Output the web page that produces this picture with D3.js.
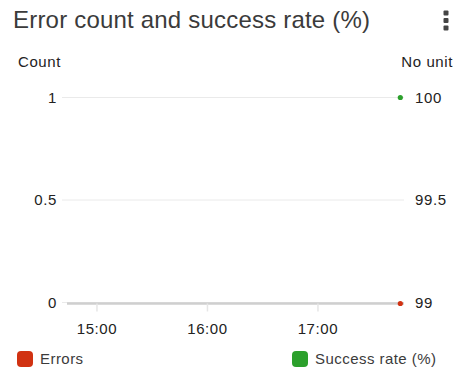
<!DOCTYPE html>
<html>
<head>
<meta charset="utf-8">
<script src="https://cdn.jsdelivr.net/npm/d3@7"></script>
<style>
  html, body { margin: 0; padding: 0; background: #fff; }
  svg { display: block; font-family: "Liberation Sans", Arial, sans-serif; }
</style>
</head>
<body>
<svg id="chart" width="458" height="369"></svg>
<script>
// Series data (one sample in the window)
const times = ["17:45"];
const errors = [0];
const successRate = [100];

// Axis ticks
const leftTicks = [0, 0.5, 1];
const rightTicks = [99, 99.5, 100];
const timeTicks = ["15:00", "16:00", "17:00"];
const windowStart = "14:44";
const windowEnd = "17:47";

const colors = { errors: "#d13212", success: "#2ca02c" };
const seriesNames = ["Errors", "Success rate (%)"];

const parse = s => d3.timeParse("%H:%M")(s);

const svg = d3.select("#chart");
const plot = { left: 67, right: 404, top: 97.5, bottom: 302.5 };
const small = { size: 15, spacing: 0.6, color: "#222" };

const x = d3.scaleTime()
  .domain([parse(windowStart), parse(windowEnd)])
  .range([plot.left, plot.right]);
const yL = d3.scaleLinear().domain([0, 1]).range([plot.bottom, plot.top]);
const yR = d3.scaleLinear().domain([99, 100]).range([plot.bottom, plot.top]);

function styleSmall(sel) {
  sel.attr("font-size", small.size).attr("letter-spacing", small.spacing)
    .attr("fill", small.color)
    .attr("font-family", "Liberation Sans, Arial, sans-serif");
}

// Title
svg.append("text")
  .attr("x", 13).attr("y", 27.5)
  .attr("font-size", 24).attr("letter-spacing", 0.2).attr("fill", "#3b3b3b")
  .text("Error count and success rate (%)");

// Menu glyph (three stacked squares)
svg.append("g").selectAll("rect").data([0, 1, 2]).join("rect")
  .attr("x", 443.5).attr("y", d => 10.5 + d * 7.5)
  .attr("width", 5).attr("height", 5).attr("rx", 1)
  .attr("fill", "#444");

// Axis unit labels
svg.append("text").attr("x", 18).attr("y", 66.5).text("Count").call(styleSmall);
svg.append("text").attr("x", 453).attr("y", 66.5).attr("text-anchor", "end")
  .text("No unit").call(styleSmall);

// Horizontal grid lines
svg.append("g").selectAll("line").data(leftTicks).join("line")
  .attr("x1", 62).attr("x2", plot.right)
  .attr("y1", d => yL(d)).attr("y2", d => yL(d))
  .attr("stroke", "#eaeaea").attr("stroke-width", 1);

// Left axis
const leftAxis = svg.append("g")
  .attr("transform", `translate(57,0)`)
  .call(d3.axisLeft(yL).tickValues(leftTicks).tickSize(0).tickPadding(0)
    .tickFormat(d3.format("")));
leftAxis.select(".domain").remove();
leftAxis.selectAll("text").call(styleSmall);

// Right axis
const rightAxis = svg.append("g")
  .attr("transform", `translate(415,0)`)
  .call(d3.axisRight(yR).tickValues(rightTicks).tickSize(0).tickPadding(0)
    .tickFormat(d3.format("")));
rightAxis.select(".domain").remove();
rightAxis.selectAll("text").call(styleSmall);

// Bottom axis
const bottomAxis = svg.append("g")
  .attr("transform", `translate(0,${plot.bottom + 1})`)
  .call(d3.axisBottom(x).tickValues(timeTicks.map(parse))
    .tickSize(8).tickPadding(12).tickFormat(d3.timeFormat("%H:%M")));
bottomAxis.select(".domain")
  .attr("d", `M${plot.left},0H${plot.right}`)
  .attr("stroke", "#cfcfcf").attr("stroke-width", 2.5);
bottomAxis.selectAll(".tick line").attr("stroke", "#e6e6e6").attr("stroke-width", 1.5);
bottomAxis.selectAll("text").call(styleSmall);

// Data points
svg.append("g").selectAll("circle").data(times).join("circle")
  .attr("cx", d => x(parse(d))).attr("cy", (d, i) => yR(successRate[i]))
  .attr("r", 2.6).attr("fill", colors.success);
svg.append("g").selectAll("circle").data(times).join("circle")
  .attr("cx", d => x(parse(d))).attr("cy", (d, i) => yL(errors[i]) + 1)
  .attr("r", 2.6).attr("fill", colors.errors);

// Legend
const legend = [
  { name: seriesNames[0], color: colors.errors, x: 17 },
  { name: seriesNames[1], color: colors.success, x: 292 }
];
const lg = svg.append("g").selectAll("g").data(legend).join("g")
  .attr("transform", d => `translate(${d.x},351)`);
lg.append("rect").attr("width", 16).attr("height", 16).attr("rx", 4)
  .attr("fill", d => d.color);
lg.append("text").attr("x", 23).attr("y", 12.5)
  .attr("font-size", 15).attr("letter-spacing", 0.45).attr("fill", "#3b3b3b")
  .text(d => d.name);
</script>
</body>
</html>
